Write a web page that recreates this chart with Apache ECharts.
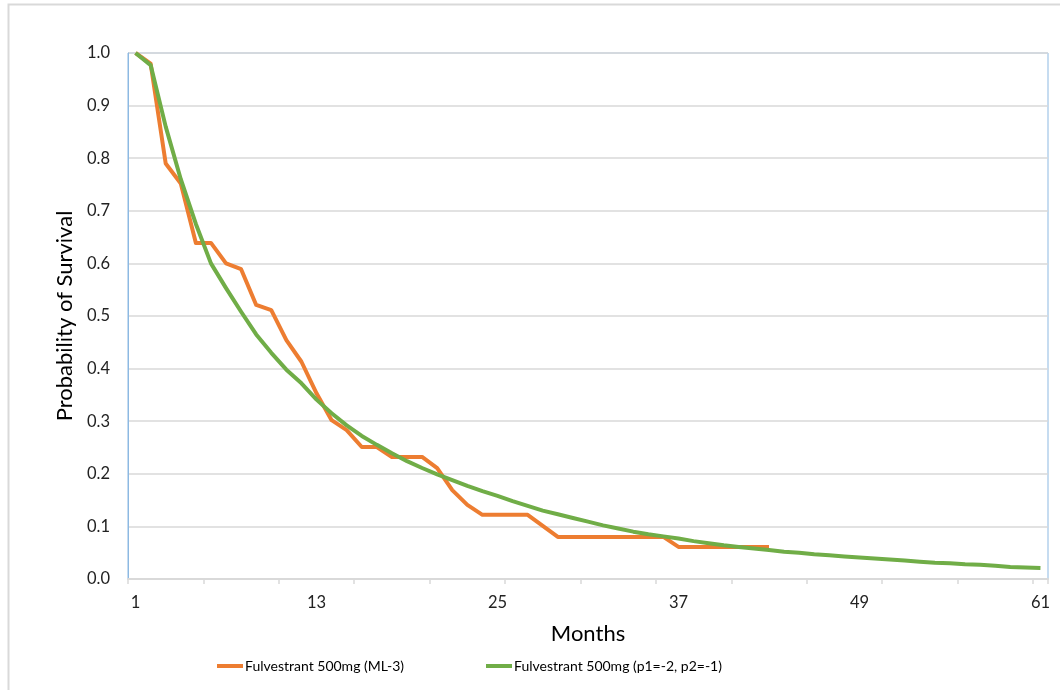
<!DOCTYPE html>
<html>
<head>
<meta charset="utf-8">
<script src="https://cdn.jsdelivr.net/npm/echarts@6/dist/echarts.min.js"></script>
<style>
html,body{margin:0;padding:0;background:#fff;}
#chart{width:1060px;height:690px;}
</style>
</head>
<body>
<div id="chart"></div>
<script>
var months = ['1','2','3','4','5','6','7','8','9','10','11','12','13','14','15','16','17','18','19','20',
  '21','22','23','24','25','26','27','28','29','30','31','32','33','34','35','36','37','38','39','40',
  '41','42','43','44','45','46','47','48','49','50','51','52','53','54','55','56','57','58','59','60','61'];

var seriesNames = ['Fulvestrant 500mg (ML-3)', 'Fulvestrant 500mg (p1=-2, p2=-1)'];

// Kaplan-Meier style observed curve (months 1..43)
var observed = [1.0, 0.98, 0.79, 0.752, 0.639, 0.639, 0.60, 0.589, 0.521, 0.511,
  0.454, 0.413, 0.353, 0.302, 0.283, 0.251, 0.251, 0.232, 0.232, 0.232,
  0.211, 0.169, 0.141, 0.122, 0.122, 0.122, 0.122, 0.101, 0.08, 0.08,
  0.08, 0.08, 0.08, 0.08, 0.08, 0.08, 0.061, 0.061, 0.061, 0.061,
  0.061, 0.061, 0.061];

// Fitted model curve (months 1..61)
var fitted = [1.0, 0.977, 0.86, 0.76, 0.675, 0.60, 0.553, 0.508, 0.465, 0.43,
  0.398, 0.372, 0.341, 0.315, 0.292, 0.272, 0.255, 0.239, 0.224, 0.211,
  0.199, 0.188, 0.177, 0.167, 0.158, 0.148, 0.139, 0.130, 0.123, 0.116,
  0.109, 0.102, 0.096, 0.090, 0.085, 0.081, 0.077, 0.072, 0.068, 0.064,
  0.061, 0.058, 0.055, 0.052, 0.050, 0.047, 0.045, 0.043, 0.041, 0.039,
  0.037, 0.035, 0.033, 0.031, 0.030, 0.028, 0.027, 0.025, 0.023, 0.022, 0.021];

var FONT = 'Lato, "Open Sans", sans-serif';
var legendText = {fontFamily: FONT, fontSize: 14, color: '#000', padding: [0,0,0,-3]};
var chart = echarts.init(document.getElementById('chart'), null, {renderer: 'canvas'});
chart.setOption({
  animation: false,
  backgroundColor: '#ffffff',
  textStyle: {fontFamily: FONT},
  graphic: [{
    type: 'rect', left: 6, top: 2, silent: true,
    shape: {width: 1100, height: 740},
    style: {fill: 'none', stroke: '#d9d9d9', lineWidth: 2}
  }],
  grid: {
    left: 128, right: 12, top: 53, bottom: 111,
    show: true, borderColor: '#8DB9E2', borderWidth: 1, backgroundColor: 'transparent'
  },
  legend: [
    {
      top: 654, left: 212, itemWidth: 26, itemHeight: 4, icon: 'rect',
      textStyle: legendText, data: [seriesNames[0]]
    },
    {
      top: 654, left: 481, itemWidth: 26, itemHeight: 4, icon: 'rect',
      textStyle: legendText, data: [seriesNames[1]]
    }
  ],
  xAxis: {
    type: 'category',
    data: months,
    boundaryGap: true,
    name: 'Months',
    nameLocation: 'middle',
    nameGap: 44,
    nameTextStyle: {fontFamily: FONT, fontSize: 22, color: '#000'},
    axisLine: {show: true, lineStyle: {color: '#d9d9d9', width: 2}},
    axisTick: {show: true, interval: 4, length: 5, lineStyle: {color: '#d9d9d9', width: 1.5}},
    axisLabel: {interval: 11, margin: 15, fontFamily: FONT, fontSize: 16.5, color: '#222'},
    splitLine: {show: false}
  },
  yAxis: {
    type: 'value',
    min: 0, max: 1, interval: 0.1,
    name: 'Probability of Survival',
    nameLocation: 'middle',
    nameGap: 52,
    nameTextStyle: {fontFamily: FONT, fontSize: 22, color: '#000'},
    axisLine: {show: true, lineStyle: {color: '#8DB9E2', width: 1}},
    axisTick: {show: false},
    axisLabel: {margin: 18, fontFamily: FONT, fontSize: 16.5, color: '#222',
      formatter: function (v) { return v.toFixed(1); }},
    splitLine: {show: true, lineStyle: {color: '#d9d9d9', width: 1.5}}
  },
  series: [
    {
      name: seriesNames[0], type: 'line', data: observed,
      symbol: 'none', smooth: false, z: 2,
      lineStyle: {color: '#ED7D31', width: 4, join: 'round'},
      itemStyle: {color: '#ED7D31'}
    },
    {
      name: seriesNames[1], type: 'line', data: fitted,
      symbol: 'none', smooth: false, z: 3,
      lineStyle: {color: '#70AD47', width: 4, join: 'round'},
      itemStyle: {color: '#70AD47'}
    }
  ]
});
</script>
</body>
</html>
